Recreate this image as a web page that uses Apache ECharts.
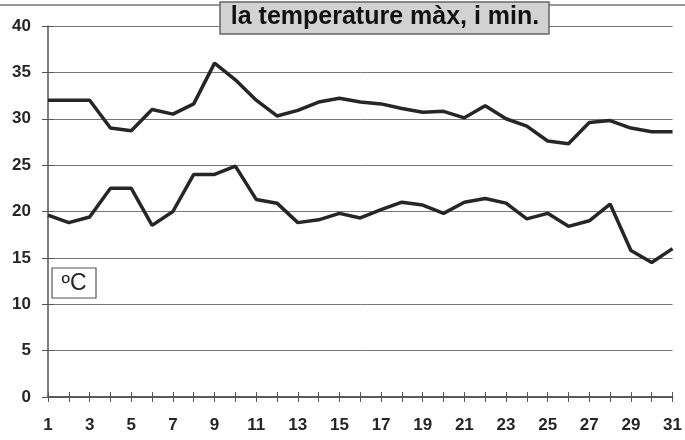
<!DOCTYPE html>
<html>
<head>
<meta charset="utf-8">
<script src="https://cdn.jsdelivr.net/npm/echarts@6/dist/echarts.min.js"></script>
<style>
  html, body { margin: 0; padding: 0; background: #fff; }
  #chart { width: 685px; height: 440px; }
</style>
</head>
<body>
<div id="chart"></div>
<script>
// dies del mes
var days = [];
for (var d = 1; d <= 31; d++) days.push(String(d));

// temperatures llegides del gràfic (ºC)
var tempMax = [32.0, 32.0, 32.0, 29.0, 28.7, 31.0, 30.5, 31.6, 36.0, 34.2,
               32.0, 30.3, 30.9, 31.8, 32.2, 31.8, 31.6, 31.1, 30.7, 30.8,
               30.1, 31.4, 30.0, 29.2, 27.6, 27.3, 29.6, 29.8, 29.0, 28.6, 28.6];
var tempMin = [19.6, 18.8, 19.4, 22.5, 22.5, 18.5, 20.0, 24.0, 24.0, 24.9,
               21.3, 20.9, 18.8, 19.1, 19.8, 19.3, 20.2, 21.0, 20.7, 19.8,
               21.0, 21.4, 20.9, 19.2, 19.8, 18.4, 19.0, 20.8, 15.8, 14.5, 16.0];

var titleText = 'la temperature màx, i min.';
var unitText = 'ºC';

var chart = echarts.init(document.getElementById('chart'));
var font = 'Liberation Sans, Arial, sans-serif';
var ink = '#262626';

var xBase = {
    type: 'category',
    data: days,
    boundaryGap: false,
    axisLine: { lineStyle: { color: '#555', width: 1.5 } },
    splitLine: { show: false }
};

chart.setOption({
    animation: false,
    backgroundColor: '#fff',
    grid: { left: 48, right: 6, top: 26, bottom: 43 },
    xAxis: [
        Object.assign({}, xBase, {
            axisTick: { show: true, interval: 0, length: 5, lineStyle: { color: '#555' } },
            axisLabel: {
                interval: 1, margin: 20,
                color: ink, fontFamily: font, fontWeight: 'bold', fontSize: 17
            }
        }),
        Object.assign({}, xBase, {
            position: 'bottom',
            axisTick: { show: true, inside: true, interval: 0, length: 5, lineStyle: { color: '#555' } },
            axisLabel: { show: false }
        })
    ],
    yAxis: [
        {
            type: 'value', min: 0, max: 40, interval: 5,
            axisLine: { show: true, lineStyle: { color: '#555', width: 1.5 } },
            axisTick: { show: true, length: 6, lineStyle: { color: '#555' } },
            axisLabel: { margin: 17, color: ink, fontFamily: font, fontWeight: 'bold', fontSize: 17 },
            splitLine: { show: true, lineStyle: { color: '#777', width: 1 } }
        },
        {
            type: 'value', min: 0, max: 40, interval: 5, position: 'left',
            axisLine: { show: false },
            axisTick: { show: true, inside: true, length: 6, lineStyle: { color: '#555' } },
            axisLabel: { show: false },
            splitLine: { show: false }
        }
    ],
    series: [
        {
            name: 'màx', type: 'line', data: tempMax,
            symbol: 'none', lineStyle: { color: ink, width: 3.5 }, z: 5
        },
        {
            name: 'min', type: 'line', data: tempMin,
            symbol: 'none', lineStyle: { color: ink, width: 3.5 }, z: 5
        }
    ],
    graphic: [
        {
            type: 'line', z: 10,
            shape: { x1: 0, y1: 5, x2: 685, y2: 5 },
            style: { stroke: '#999', lineWidth: 2 }
        },
        {
            type: 'rect', z: 10,
            shape: { x: 220, y: 2, width: 329, height: 32 },
            style: { fill: '#d2d2d2', stroke: '#666', lineWidth: 1.5 }
        },
        {
            type: 'text', z: 11, x: 385, y: 17,
            style: {
                text: titleText, fill: '#111',
                font: 'bold 25px ' + font,
                textAlign: 'center', textVerticalAlign: 'middle'
            }
        },
        {
            type: 'rect', z: 10,
            shape: { x: 52, y: 268, width: 44, height: 30 },
            style: { fill: '#fff', stroke: '#555', lineWidth: 1.2 }
        },
        {
            type: 'text', z: 11, x: 74, y: 284,
            style: {
                text: unitText, fill: ink, font: '23px ' + font,
                textAlign: 'center', textVerticalAlign: 'middle'
            }
        }
    ]
});
</script>
</body>
</html>
